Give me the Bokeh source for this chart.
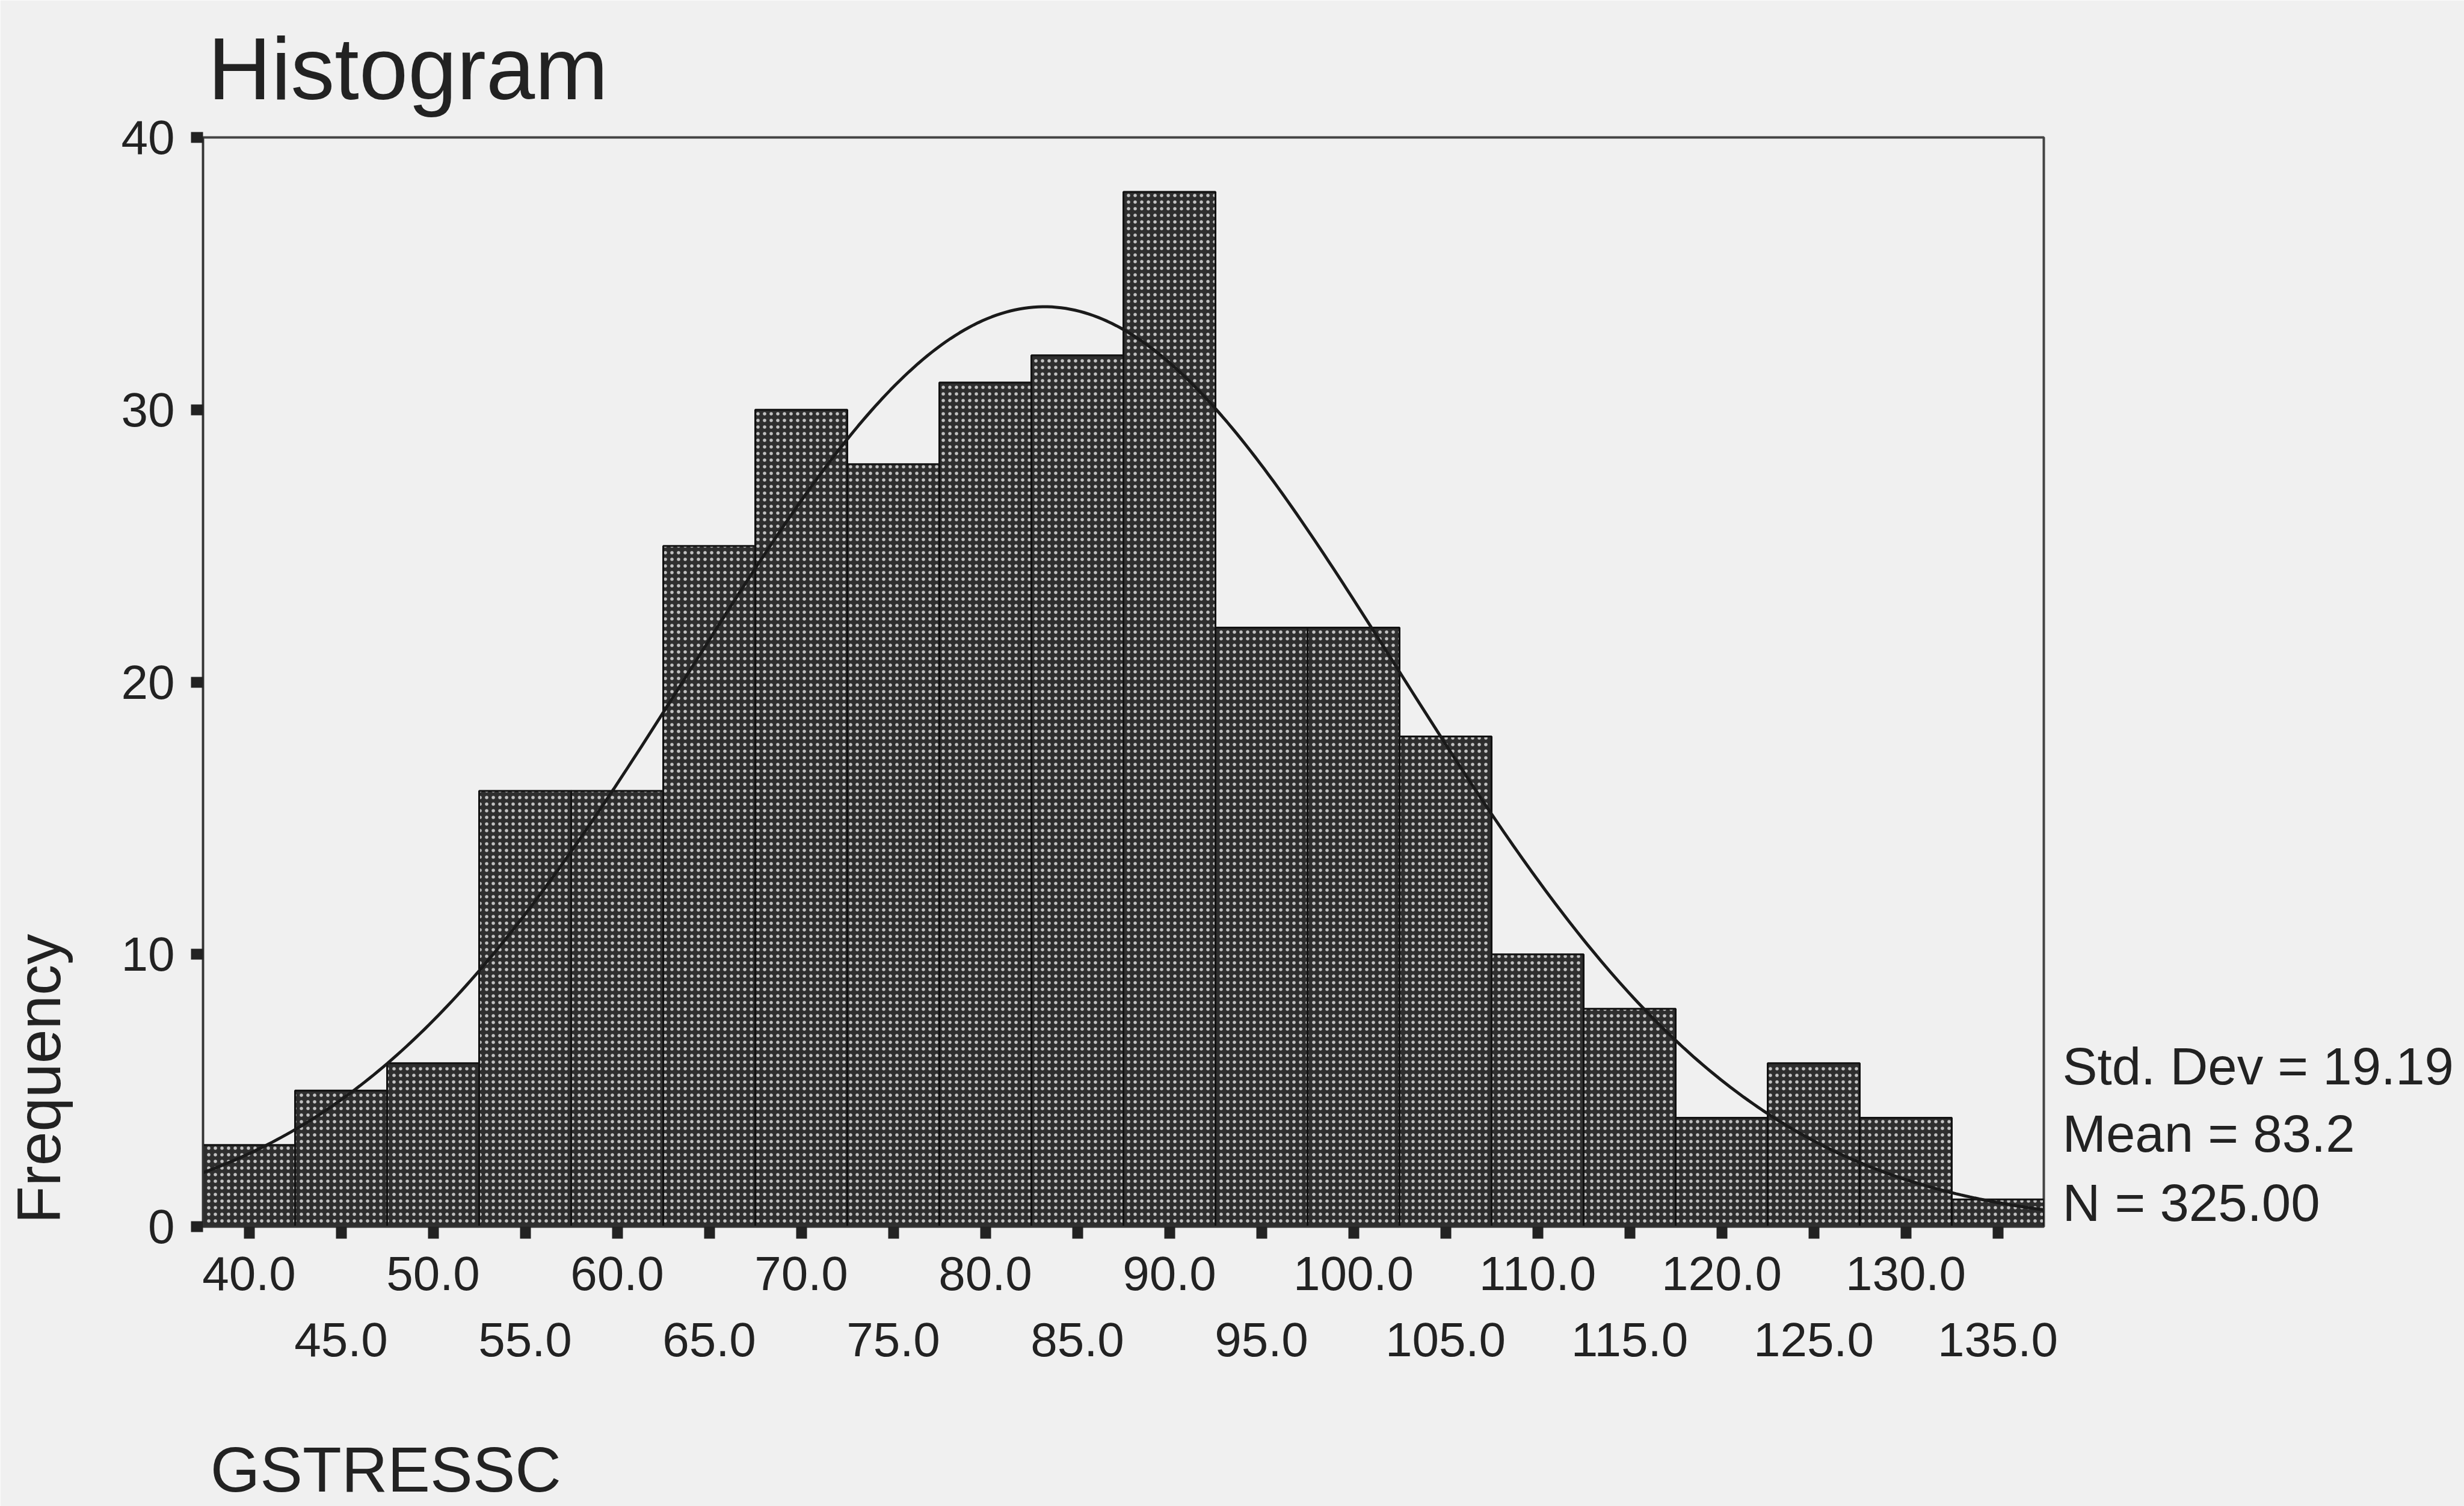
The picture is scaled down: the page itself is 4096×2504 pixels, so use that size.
import numpy as np
from bokeh.plotting import figure
from bokeh.models import Range1d, LinearAxis, FixedTicker, PrintfTickFormatter, ColumnDataSource
from bokeh.embed import file_html
from bokeh.resources import INLINE

# ---- data ----
BIN_CENTERS = [40.0, 45.0, 50.0, 55.0, 60.0, 65.0, 70.0, 75.0, 80.0, 85.0,
               90.0, 95.0, 100.0, 105.0, 110.0, 115.0, 120.0, 125.0, 130.0, 135.0]
FREQUENCIES = [3, 5, 6, 16, 16, 25, 30, 28, 31, 32, 38, 22, 22, 18, 10, 8, 4, 6, 4, 1]
BIN_WIDTH = 5.0
MEAN = 83.2
STD_DEV = 19.19
N_CASES = 325
Y_TICKS = [0, 10, 20, 30, 40]
X_LABELS_UPPER = [40.0, 50.0, 60.0, 70.0, 80.0, 90.0, 100.0, 110.0, 120.0, 130.0]
X_LABELS_LOWER = [45.0, 55.0, 65.0, 75.0, 85.0, 95.0, 105.0, 115.0, 125.0, 135.0]
TITLE = "Histogram"
X_TITLE = "GSTRESSC"
Y_TITLE = "Frequency"
STATS = ["Std. Dev = 19.19", "Mean = 83.2", "N = 325.00"]

FONT = "Liberation Sans"
BG = "#f0f0f0"
INK = "#222222"

# ---- layout (pixels in the 4096 x 2504 page) ----
W, H = 4096, 2504
FL, FR, FT, FB = 337, 3397, 228, 2041

x_lo = BIN_CENTERS[0] - BIN_WIDTH / 2
x_hi = BIN_CENTERS[-1] + BIN_WIDTH / 2
y_lo, y_hi = Y_TICKS[0], Y_TICKS[-1]


def px_to_x(px):
    return round(x_lo + (px - FL) * (x_hi - x_lo) / (FR - FL), 2)


def px_to_y(py):
    return round(y_lo + (FB - py) * (y_hi - y_lo) / (FB - FT), 2)


p = figure(width=W, height=H, output_backend="svg", toolbar_location=None,
           x_range=Range1d(x_lo, x_hi), y_range=Range1d(y_lo, y_hi),
           min_border_left=FL, min_border_right=W - FR,
           min_border_top=FT, min_border_bottom=H - FB,
           x_axis_location=None, y_axis_location=None)
p.grid.visible = False
p.background_fill_color = BG
p.border_fill_color = BG
p.outline_line_color = "#444444"
p.outline_line_width = 4

# title
p.title.text = TITLE
p.title.text_font = FONT
p.title.text_font_size = "146px"
p.title.text_font_style = "normal"
p.title.text_color = INK
p.title.align = "left"
p.title.vertical_align = "top"
p.title.offset = 8
p.title.standoff = 62


def text_only_axis(ax):
    ax.axis_line_color = None
    ax.major_tick_line_color = None
    ax.minor_tick_line_color = None
    ax.major_tick_out = 0
    ax.major_tick_in = 0
    ax.minor_tick_out = 0
    ax.minor_tick_in = 0
    ax.major_label_text_font = FONT
    ax.major_label_text_color = INK
    return ax


# y axis with square ticks
yax = LinearAxis(ticker=FixedTicker(ticks=Y_TICKS, minor_ticks=[]))
yax.axis_line_width = 3
yax.axis_line_color = "#333333"
yax.major_tick_out = 20
yax.major_tick_in = 0
yax.major_tick_line_width = 18
yax.major_tick_line_color = "#222222"
yax.minor_tick_out = 0
yax.minor_tick_in = 0
yax.major_label_text_font = FONT
yax.major_label_text_font_size = "80px"
yax.major_label_text_color = INK
yax.major_label_standoff = 27
p.add_layout(yax, "left")

# y variable name, sitting at the lower end of the axis
freq_y = px_to_y(1795)
yname = text_only_axis(LinearAxis(ticker=FixedTicker(ticks=[freq_y], minor_ticks=[])))
yname.major_label_overrides = {freq_y: Y_TITLE}
yname.major_label_orientation = "parallel"
yname.major_label_text_font_size = "102px"
yname.major_label_standoff = 76
p.add_layout(yname, "left")

# x axis, upper label row, square ticks at every bin centre
xax1 = LinearAxis(ticker=FixedTicker(ticks=X_LABELS_UPPER, minor_ticks=X_LABELS_LOWER),
                  formatter=PrintfTickFormatter(format="%.1f"))
xax1.axis_line_width = 3
xax1.axis_line_color = "#333333"
xax1.major_tick_out = 20
xax1.major_tick_in = 0
xax1.major_tick_line_width = 18
xax1.major_tick_line_color = "#222222"
xax1.minor_tick_out = 20
xax1.minor_tick_in = 0
xax1.minor_tick_line_width = 18
xax1.minor_tick_line_color = "#222222"
xax1.major_label_text_font = FONT
xax1.major_label_text_font_size = "80px"
xax1.major_label_text_color = INK
xax1.major_label_standoff = 30
p.add_layout(xax1, "below")

# x axis, lower label row
xax2 = text_only_axis(LinearAxis(ticker=FixedTicker(ticks=X_LABELS_LOWER, minor_ticks=[]),
                                 formatter=PrintfTickFormatter(format="%.1f")))
xax2.major_label_text_font_size = "80px"
xax2.major_label_standoff = 52
p.add_layout(xax2, "below")

# x variable name, left-aligned under the axis
gs_x = px_to_x(641)
xname = text_only_axis(LinearAxis(ticker=FixedTicker(ticks=[gs_x], minor_ticks=[])))
xname.major_label_overrides = {gs_x: X_TITLE}
xname.major_label_text_font_size = "106px"
xname.major_label_standoff = 126
p.add_layout(xname, "below")

# summary statistics at the right of the frame
stat_ys = [px_to_y(v) for v in (1774, 1886, 2001)]
sax = text_only_axis(LinearAxis(ticker=FixedTicker(ticks=stat_ys, minor_ticks=[])))
sax.major_label_overrides = {yv: s for yv, s in zip(stat_ys, STATS)}
sax.major_label_text_font_size = "87px"
sax.major_label_standoff = 31
p.add_layout(sax, "right")

# bars
src = ColumnDataSource(dict(
    left=[c - BIN_WIDTH / 2 for c in BIN_CENTERS],
    right=[c + BIN_WIDTH / 2 for c in BIN_CENTERS],
    top=FREQUENCIES,
    bottom=[0] * len(FREQUENCIES),
))
p.quad(source=src, left="left", right="right", top="top", bottom="bottom",
       fill_color="#2e2e2e", line_color="#111111", line_width=3,
       hatch_pattern="dot", hatch_color="#c2c2c2", hatch_scale=11, hatch_weight=4)

# fitted normal curve from the stated Mean / Std. Dev / N
xs = np.linspace(x_lo, x_hi, 400)
ys = N_CASES * BIN_WIDTH / (STD_DEV * np.sqrt(2 * np.pi)) * np.exp(-0.5 * ((xs - MEAN) / STD_DEV) ** 2)
p.line(xs, ys, line_color="#1a1a1a", line_width=5)

open("out.html", "w").write(file_html(p, INLINE))
